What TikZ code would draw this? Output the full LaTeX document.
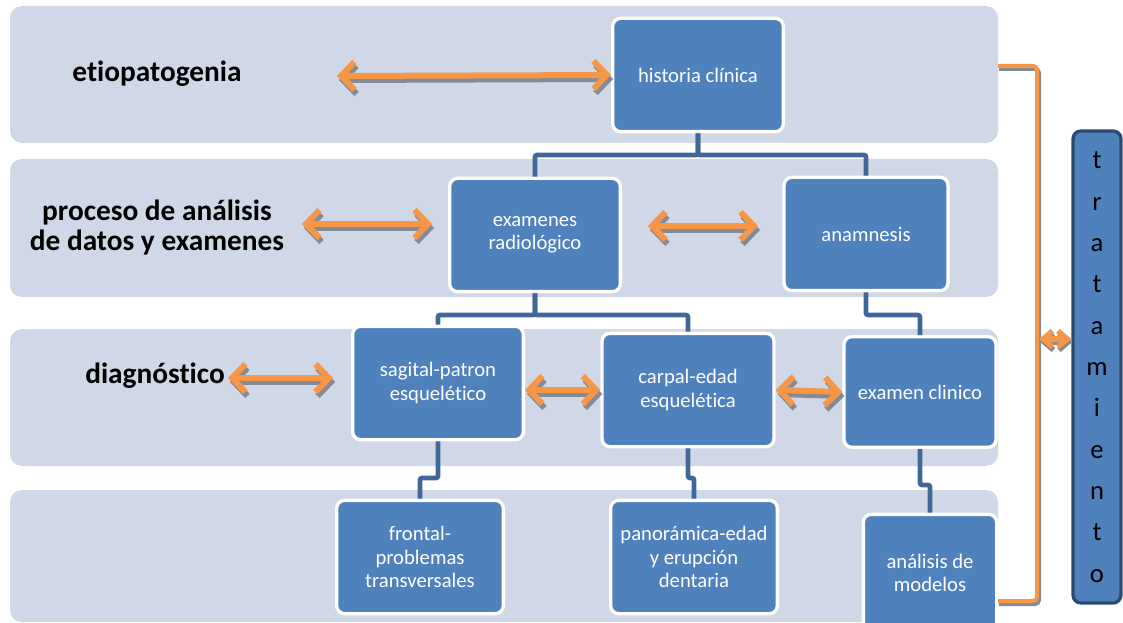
\documentclass[tikz,border=0pt]{standalone}
\usepackage{fontspec}
\setmainfont{Carlito}[Ligatures=NoCommon]
\usepackage{xcolor}
\usetikzlibrary{arrows.meta}

\definecolor{bandgray}{HTML}{D0D8E8}
\definecolor{boxblue}{HTML}{4F81BD}
\definecolor{linkblue}{HTML}{3F6797}
\definecolor{orangeA}{HTML}{F79646}
\definecolor{shadowgray}{HTML}{858B95}
\definecolor{darkrim}{HTML}{2A4A72}

\tikzset{
  band/.style={fill=bandgray, rounded corners=9pt},
  box/.style={rectangle, rounded corners=6pt, fill=boxblue, draw=white,
    line width=2.5pt, text=white, align=center,
    font=\fontsize{15.5}{17.5}\selectfont,
    minimum width=128pt, minimum height=85pt, inner sep=2pt},
  heading/.style={font=\bfseries\fontsize{22}{22.5}\selectfont, align=center},
  link/.style={draw=linkblue, line width=3.5pt, rounded corners=1.5pt},
  dblarr/.style={line width=4.5pt,
    {Straight Barb[length=10pt,width=21pt]}-{Straight Barb[length=10pt,width=21pt]}},
  arr/.style={dblarr, draw=orangeA},
  arrshadow/.style={dblarr, draw=shadowgray},
}

% orange double arrow with its grey shadow
\newcommand{\orarrow}[2]{%
  \draw[arrshadow] ([shift={(2,4)}]#1) -- ([shift={(2,4)}]#2);
  \draw[arr] (#1) -- (#2);}

\begin{document}
\begin{tikzpicture}[x=0.75pt,y=-0.75pt]
    \useasboundingbox (0,0) rectangle (1123,623);

    % bands
    \fill[band] (10,6) rectangle (998,143);
    \fill[band] (10,159) rectangle (998,297);
    \fill[band] (10,329) rectangle (998,466);
    \fill[band] (10,490) rectangle (998,622);

    % row labels
    \node[heading] (eti) at (157,74) {etiopatogenia};
    \node[heading] (proc) at (157,228) {proceso de análisis\\de datos y examenes};
    \node[heading] (diag) at (155,376) {diagnóstico};

    % boxes
    \node[box] (hist) at (698,75) {historia clínica};
    \node[box] (exam) at (535,235) {examenes\\radiológico};
    \node[box, minimum width=123pt] (anam) at (866,234) {anamnesis};
    \node[box] (sag) at (438,383) {sagital-patron\\esquelético};
    \node[box, minimum width=129pt] (carp) at (688,390) {carpal-edad\\esquelética};
    \node[box, minimum width=114pt, minimum height=83pt] (clin) at (920,392) {examen clinico};
    \node[box, minimum width=125pt] (front) at (420,557) {frontal-\\problemas\\transversales};
    \node[box, minimum width=125pt] (pano) at (694,557) {panorámica-edad\\y erupción\\dentaria};
    \node[box, minimum width=100pt, minimum height=88pt] (anal) at (930,573) {análisis de\\modelos};

    \node[rectangle, rounded corners=6pt, fill=boxblue, draw=darkrim, line width=2.5pt,
      minimum width=36pt, minimum height=354pt, align=center,
      font=\fontsize{20}{31}\selectfont] (trat) at (1097,367)
      {t\\r\\a\\t\\a\\m\\i\\e\\n\\t\\o};

    % tree links
    \draw[link] (hist.south) -- (hist.south |- 0,155) -| (exam.north);
    \draw[link] (hist.south) -- (hist.south |- 0,155) -| (anam.north);
    \draw[link] (exam.south) -- (exam.south |- 0,315) -| (sag.north);
    \draw[link] (exam.south) -- (exam.south |- 0,315) -| (carp.north);
    \draw[link] (anam.south) -- (anam.south |- 0,315) -| (clin.north);
    \draw[link] (sag.south) -- (sag.south |- 0,478) -| (front.north);
    \draw[link] (carp.south) -- (carp.south |- 0,478) -| (pano.north);
    \draw[link] (clin.south) -- (clin.south |- 0,485) -| (anal.north);

    % free arrow ends
    \coordinate (etiR) at (337,76);
    \coordinate (procR) at (302,224);
    \coordinate (examL) at (432,224);
    \coordinate (examR) at (648,226);
    \coordinate (anamL) at (758,226);
    \coordinate (diagR) at (228,378);
    \coordinate (sagL) at (333,378);

    \orarrow{etiR}{hist.west}
    \orarrow{procR}{examL}
    \orarrow{examR}{anamL}
    \orarrow{diagR}{sagL}
    \orarrow{sag.east |- carp}{carp.west}
    \orarrow{carp.east}{clin.west}

    % bracket to tratamiento
    \coordinate (brTop) at (998,66);
    \coordinate (brBot) at (998,601);
    \coordinate (brMid) at (1039,339);
    \draw[shadowgray, line width=3pt, rounded corners=3pt]
      ([shift={(1,3)}]brTop) -- ++(40,0) |- ([shift={(1,3)}]brBot);
    \draw[orangeA, line width=3pt, rounded corners=3pt]
      (brTop) -- ++(39,0) |- (brBot);
    \draw[shadowgray, line width=4pt, {Straight Barb[length=7pt,width=12pt]}-{Straight Barb[length=7pt,width=12pt]}]
      ([shift={(1,3)}]brMid) -- ([shift={(1,3)}]trat.west |- brMid);
    \draw[orangeA, line width=4pt, {Straight Barb[length=7pt,width=12pt]}-{Straight Barb[length=7pt,width=12pt]}]
      (brMid) -- (trat.west |- brMid);
\end{tikzpicture}
\end{document}
